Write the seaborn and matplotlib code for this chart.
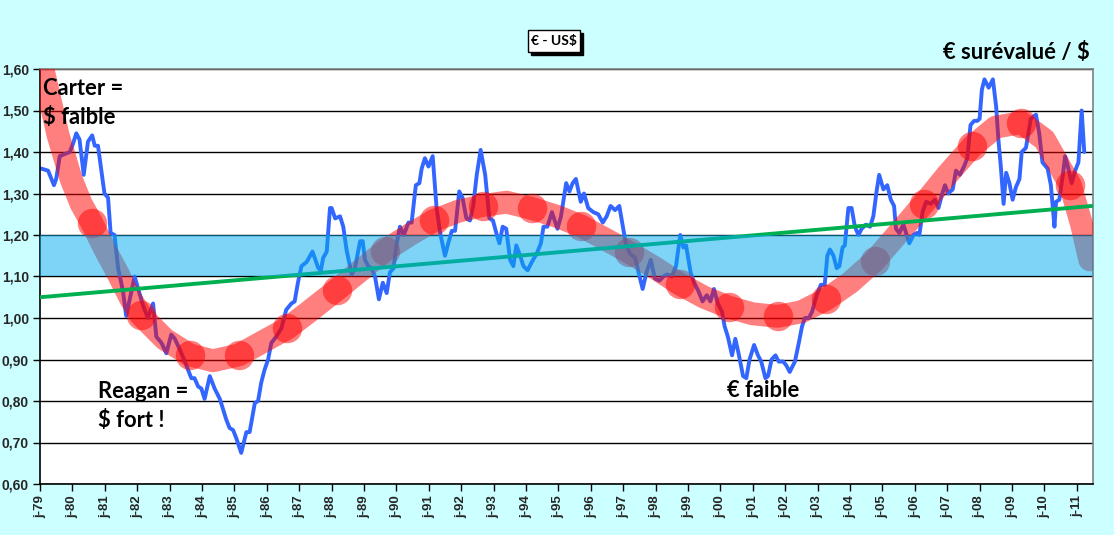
import numpy as np
import pandas as pd
import seaborn as sns
import matplotlib.pyplot as plt
from matplotlib.patches import Rectangle

# EUR/USD monthly-ish readings (decimal year, rate)
blue_years = [
    1979.04, 1979.25, 1979.43, 1979.50, 1979.61, 1979.76, 1979.92, 1980.02, 1980.12, 1980.22,
    1980.35, 1980.48, 1980.61, 1980.69, 1980.79, 1980.91, 1980.99, 1981.10, 1981.18, 1981.30,
    1981.41, 1981.56, 1981.66, 1981.77, 1981.92, 1982.03, 1982.18, 1982.33, 1982.49, 1982.59,
    1982.75, 1982.90, 1983.05, 1983.16, 1983.31, 1983.47, 1983.67, 1983.77, 1983.88, 1983.98,
    1984.08, 1984.24, 1984.39, 1984.55, 1984.65, 1984.75, 1984.85, 1984.96, 1985.06, 1985.21,
    1985.37, 1985.47, 1985.63, 1985.73, 1985.83, 1985.93, 1986.04, 1986.14, 1986.29, 1986.45,
    1986.60, 1986.76, 1986.86, 1986.96, 1987.07,
    1987.23, 1987.41, 1987.59, 1987.67, 1987.74, 1987.85, 1987.95, 1988.00, 1988.11, 1988.26,
    1988.36, 1988.46, 1988.62, 1988.72, 1988.88, 1988.96, 1989.03, 1989.13, 1989.23, 1989.34,
    1989.46, 1989.58, 1989.70, 1989.80, 1989.91, 1990.01, 1990.11, 1990.23, 1990.37, 1990.47,
    1990.60, 1990.71, 1990.78, 1990.88, 1990.99, 1991.12, 1991.24, 1991.35, 1991.50, 1991.60,
    1991.71, 1991.81, 1991.94, 1992.04, 1992.16, 1992.27, 1992.37, 1992.48, 1992.60, 1992.74,
    1992.87, 1992.98, 1993.10, 1993.18, 1993.28, 1993.39, 1993.51, 1993.61, 1993.70, 1993.82,
    1993.92, 1994.05, 1994.18, 1994.33, 1994.46, 1994.54, 1994.66, 1994.80, 1994.97, 1995.08,
    1995.24, 1995.34, 1995.44, 1995.54, 1995.69, 1995.79, 1995.92, 1996.08, 1996.23, 1996.37,
    1996.49, 1996.61, 1996.75, 1996.88, 1996.99, 1997.09, 1997.21, 1997.37, 1997.52, 1997.60,
    1997.72, 1997.85, 1997.98, 1998.12, 1998.24, 1998.36, 1998.50, 1998.63, 1998.76, 1998.86,
    1998.94, 1999.08, 1999.19, 1999.32, 1999.45, 1999.58, 1999.69, 1999.80, 1999.92, 2000.05,
    2000.13, 2000.23, 2000.36, 2000.46, 2000.56, 2000.70, 2000.80, 2000.90, 2001.04, 2001.16,
    2001.26, 2001.39, 2001.47, 2001.58, 2001.70, 2001.80, 2001.94, 2002.04, 2002.14, 2002.30,
    2002.42, 2002.52, 2002.61, 2002.73, 2002.83, 2002.97, 2003.10,
    2003.22, 2003.30, 2003.38, 2003.49, 2003.59, 2003.67, 2003.77, 2003.84, 2003.95, 2004.05,
    2004.15, 2004.26, 2004.36, 2004.49, 2004.62, 2004.72, 2004.82, 2004.90, 2005.03, 2005.15,
    2005.26, 2005.36, 2005.42, 2005.52, 2005.65, 2005.75, 2005.83, 2005.96, 2006.06, 2006.14,
    2006.24, 2006.35, 2006.49, 2006.62, 2006.73, 2006.83, 2006.93, 2007.03, 2007.17, 2007.27,
    2007.39, 2007.52, 2007.62, 2007.72, 2007.83, 2007.93, 2008.00, 2008.07, 2008.15, 2008.28,
    2008.41, 2008.51, 2008.58, 2008.66, 2008.74, 2008.82, 2008.92, 2009.02, 2009.12, 2009.23,
    2009.30, 2009.43, 2009.58, 2009.74, 2009.84, 2009.94, 2010.10, 2010.20, 2010.31, 2010.36,
    2010.46, 2010.57, 2010.64, 2010.74, 2010.84, 2010.95, 2011.05, 2011.15, 2011.23,
]
blue_values = [
    1.360, 1.355, 1.320, 1.335, 1.390, 1.395, 1.400, 1.420, 1.445, 1.430,
    1.345, 1.425, 1.440, 1.415, 1.415, 1.345, 1.300, 1.290, 1.205, 1.200,
    1.120, 1.065, 1.005, 1.045, 1.100, 1.070, 1.030, 1.000, 1.035, 0.955,
    0.940, 0.915, 0.960, 0.950, 0.925, 0.895, 0.855, 0.855, 0.835, 0.830,
    0.805, 0.860, 0.830, 0.805, 0.780, 0.755, 0.735, 0.730, 0.710, 0.675,
    0.725, 0.725, 0.795, 0.800, 0.845, 0.875, 0.900, 0.940, 0.955, 0.975,
    1.020, 1.035, 1.040, 1.085, 1.125,
    1.135, 1.160, 1.120, 1.115, 1.145, 1.160, 1.265, 1.265, 1.240, 1.245,
    1.220, 1.165, 1.105, 1.120, 1.185, 1.185, 1.140, 1.125, 1.120, 1.100,
    1.045, 1.085, 1.060, 1.110, 1.120, 1.180, 1.220, 1.200, 1.230, 1.230,
    1.320, 1.325, 1.360, 1.385, 1.365, 1.390, 1.265, 1.205, 1.150, 1.180,
    1.210, 1.210, 1.305, 1.290, 1.240, 1.235, 1.270, 1.345, 1.405, 1.345,
    1.240, 1.235, 1.200, 1.180, 1.220, 1.215, 1.140, 1.125, 1.175, 1.150,
    1.125, 1.115, 1.135, 1.155, 1.180, 1.220, 1.220, 1.255, 1.215, 1.245,
    1.325, 1.305, 1.325, 1.335, 1.280, 1.300, 1.265, 1.255, 1.250, 1.230,
    1.245, 1.270, 1.260, 1.270, 1.220, 1.175, 1.155, 1.145, 1.095, 1.070,
    1.110, 1.140, 1.095, 1.090, 1.100, 1.105, 1.100, 1.125, 1.200, 1.170,
    1.175, 1.110, 1.085, 1.065, 1.040, 1.055, 1.040, 1.070, 1.035, 1.015,
    0.980, 0.955, 0.910, 0.950, 0.915, 0.860, 0.855, 0.900, 0.935, 0.910,
    0.895, 0.855, 0.860, 0.900, 0.910, 0.895, 0.895, 0.885, 0.870, 0.895,
    0.940, 0.980, 1.000, 1.000, 1.015, 1.055, 1.080,
    1.080, 1.150, 1.165, 1.150, 1.120, 1.125, 1.170, 1.175, 1.265, 1.265,
    1.220, 1.200, 1.215, 1.225, 1.220, 1.245, 1.305, 1.345, 1.310, 1.320,
    1.285, 1.270, 1.215, 1.205, 1.225, 1.200, 1.180, 1.200, 1.205, 1.200,
    1.255, 1.280, 1.275, 1.285, 1.265, 1.295, 1.320, 1.300, 1.310, 1.355,
    1.345, 1.365, 1.385, 1.465, 1.475, 1.475, 1.480, 1.550, 1.575, 1.555,
    1.575, 1.510, 1.430, 1.360, 1.275, 1.350, 1.325, 1.285, 1.315, 1.335,
    1.400, 1.410, 1.480, 1.490, 1.445, 1.375, 1.360, 1.320, 1.220, 1.280,
    1.285, 1.345, 1.390, 1.360, 1.325, 1.355, 1.375, 1.500, 1.400,
]

# long cycle trend (red band) and its markers
trend_years = [
    1979.00, 1979.09, 1979.56, 1979.96, 1980.27, 1980.60, 1981.00, 1981.40, 1981.80, 1982.11,
    1982.85, 1983.62, 1984.34, 1985.14, 1985.93, 1986.63, 1987.30, 1988.16, 1988.90, 1989.64,
    1990.40, 1991.16, 1991.90, 1992.66, 1993.40, 1994.18, 1994.95, 1995.69, 1996.45, 1997.19,
    1998.00, 1998.74, 1999.50, 2000.26, 2001.00, 2001.77, 2002.50, 2003.26, 2004.00, 2004.76,
    2005.50, 2006.27, 2007.00, 2007.78, 2008.50, 2009.29, 2010.00, 2010.80, 2011.15, 2011.40,
]
trend_values = [
    1.650, 1.600, 1.440, 1.335, 1.275, 1.229, 1.166, 1.108, 1.046, 1.007,
    0.949, 0.911, 0.897, 0.911, 0.945, 0.975, 1.015, 1.068, 1.115, 1.162,
    1.200, 1.235, 1.257, 1.271, 1.279, 1.264, 1.245, 1.222, 1.190, 1.158,
    1.120, 1.082, 1.050, 1.026, 1.010, 1.004, 1.015, 1.045, 1.085, 1.138,
    1.205, 1.275, 1.345, 1.414, 1.460, 1.471, 1.430, 1.320, 1.225, 1.140,
]
dot_years = [1980.60, 1982.11, 1983.62, 1985.14, 1986.63, 1988.16, 1989.64, 1991.16, 1992.66,
             1994.18, 1995.69, 1997.19, 1998.74, 2000.26, 2001.77, 2003.26, 2004.76, 2006.27,
             2007.78, 2009.29, 2010.80]
dot_values = [1.229, 1.007, 0.911, 0.911, 0.975, 1.068, 1.162, 1.235, 1.271,
              1.264, 1.222, 1.158, 1.082, 1.026, 1.004, 1.045, 1.138, 1.275,
              1.414, 1.471, 1.320]

# linear trend
lin_years = [1979.0, 2011.47]
lin_values = [1.05, 1.27]

band_low, band_high = 1.10, 1.20
tick_years = list(range(1979, 2012))
tick_labels = ["j-%02d" % (y % 100) for y in tick_years]
y_ticks = [0.6, 0.7, 0.8, 0.9, 1.0, 1.1, 1.2, 1.3, 1.4, 1.5, 1.6]

blue = pd.DataFrame({"year": blue_years, "rate": blue_values})
trend = pd.DataFrame({"year": trend_years, "rate": trend_values})
dots = pd.DataFrame({"year": dot_years, "rate": dot_values})
lin = pd.DataFrame({"year": lin_years, "rate": lin_values})

sns.set_style("white")
plt.rcParams["font.family"] = ["Liberation Sans", "DejaVu Sans"]

fig = plt.figure(figsize=(11.14, 5.35), dpi=100, facecolor="#CCFFFF")
ax = fig.add_axes([40 / 1114, 51 / 535, 1053 / 1114, 415 / 535])
ax.set_facecolor("white")

sns.lineplot(data=blue, x="year", y="rate", ax=ax, color="#3366FF", lw=2.8, zorder=2)
sns.lineplot(data=trend, x="year", y="rate", ax=ax, color="red", lw=16.5, alpha=0.5,
             solid_capstyle="round", zorder=3)
sns.scatterplot(data=dots, x="year", y="rate", ax=ax, color="red", s=450, alpha=0.5,
                linewidth=0, zorder=4)
sns.lineplot(data=lin, x="year", y="rate", ax=ax, color="#00B050", lw=2.8, zorder=5)
ax.axhspan(band_low, band_high, color=(0, 171 / 255, 239 / 255), alpha=0.51, lw=0, zorder=6)

ax.set_xlim(1979.0, 2011.5)
ax.set_ylim(0.6, 1.6)
ax.set_xticks(tick_years)
ax.set_xticklabels(tick_labels, rotation=90, fontsize=9.5, fontweight="bold")
ax.set_yticks(y_ticks)
ax.set_yticklabels([("%.2f" % v).replace(".", ",") for v in y_ticks], fontsize=10, fontweight="bold")
ax.set_xlabel("")
ax.set_ylabel("")
ax.tick_params(axis="both", direction="out", length=5, width=1, color="black", pad=3)
ax.tick_params(axis="x", bottom=True)
ax.tick_params(axis="y", left=True)
ax.yaxis.grid(True, color="black", lw=1)
ax.xaxis.grid(False)
ax.set_axisbelow(True)
for side in ["left", "bottom"]:
    ax.spines[side].set_color("black")
    ax.spines[side].set_linewidth(1.2)
for side in ["top", "right"]:
    ax.spines[side].set_color("#808080")
    ax.spines[side].set_linewidth(1.2)

note = dict(fontsize=15.8, fontweight="bold", family=["Lato", "DejaVu Sans"], color="black",
            zorder=10)
ax.text(0.003, 0.954, "Carter =", transform=ax.transAxes, ha="left", va="center", **note)
ax.text(0.003, 0.882, "$ faible", transform=ax.transAxes, ha="left", va="center", **note)
ax.text(0.055, 0.222, "Reagan =", transform=ax.transAxes, ha="left", va="center", **note)
ax.text(0.055, 0.152, "$ fort !", transform=ax.transAxes, ha="left", va="center", **note)
ax.text(0.652, 0.226, "€ faible", transform=ax.transAxes, ha="left", va="center", **note)
fig.text(1090 / 1114, 1 - 52 / 535, "€ surévalué / $", ha="right", va="center", **note)

# title box with a drop shadow
W, H = 1114, 535
fig.patches.append(Rectangle((531 / W, 1 - 55 / H), 52 / W, 22 / H, transform=fig.transFigure,
                             fc="black", ec="black", lw=1, zorder=1))
fig.patches.append(Rectangle((528 / W, 1 - 52 / H), 52 / W, 22 / H, transform=fig.transFigure,
                             fc="white", ec="black", lw=1, zorder=2))
fig.text(554 / W, 1 - 41 / H, "€ - US$", color="black", fontsize=10, fontweight="bold",
         family=["Lato", "DejaVu Sans"], ha="center", va="center", zorder=3)

fig.savefig("out.png", dpi=100, facecolor=fig.get_facecolor())
